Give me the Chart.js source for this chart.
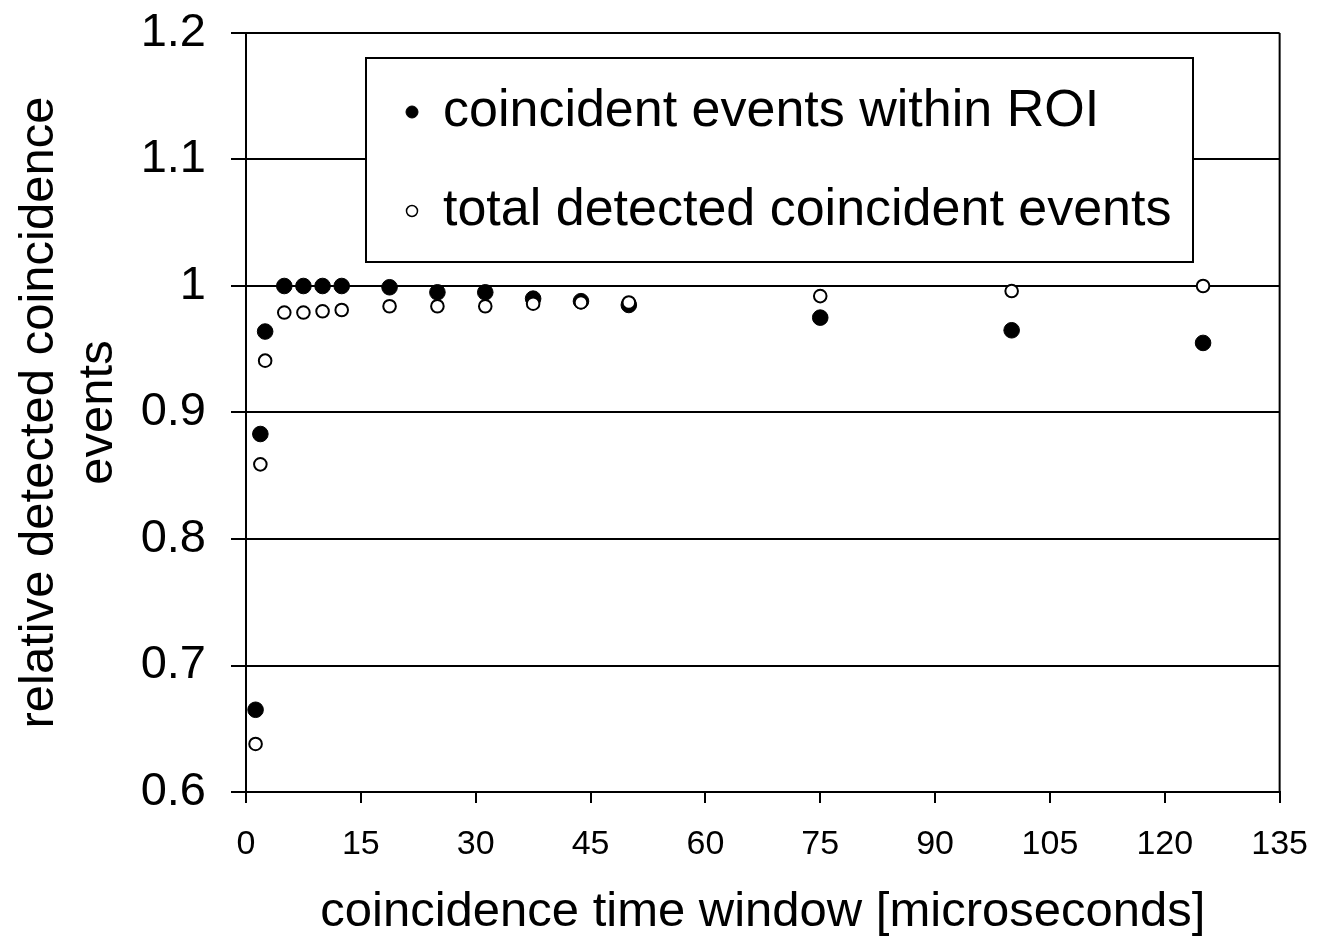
<!DOCTYPE html>
<html>
<head>
<meta charset="utf-8">
<script src="https://cdn.jsdelivr.net/npm/chart.js@4/dist/chart.umd.min.js"></script>
<style>
  html, body { margin: 0; padding: 0; background: #fff; }
  #wrap { width: 1329px; height: 943px; }
</style>
</head>
<body>
<div id="wrap"><canvas id="c" width="1329" height="943"></canvas></div>
<script>
// Coincidence time window [microseconds]
const windowTimes = [1.25, 1.875, 2.5, 5, 7.5, 10, 12.5, 18.75, 25, 31.25, 37.5, 43.75, 50, 75, 100, 125];
// Relative detected coincidence events
const roiEvents   = [0.665, 0.883, 0.964, 1.000, 1.000, 1.000, 1.000, 0.999, 0.995, 0.995, 0.990, 0.988, 0.985, 0.975, 0.965, 0.955];
const totalEvents = [0.638, 0.859, 0.941, 0.979, 0.979, 0.980, 0.981, 0.984, 0.984, 0.984, 0.986, 0.987, 0.987, 0.992, 0.996, 1.000];

const seriesNames = ['coincident events within ROI', 'total detected coincident events'];
const xAxisTitle = 'coincidence time window [microseconds]';
const yAxisTitle = ['relative detected coincidence', 'events'];
const yTickValues = [0.6, 0.7, 0.8, 0.9, 1.0, 1.1, 1.2];
const yTickLabels = ['0.6', '0.7', '0.8', '0.9', '1', '1.1', '1.2'];

const FONT = "'Liberation Sans', Arial, sans-serif";

const toPoints = (xs, ys) => xs.map((x, i) => ({ x: x, y: ys[i] }));

// Right-hand frame line of the plot area
const frameLine = {
  id: 'frameLine',
  beforeDatasetsDraw(chart) {
    const { ctx, chartArea: a } = chart;
    ctx.save();
    ctx.strokeStyle = '#000';
    ctx.lineWidth = 2;
    ctx.beginPath();
    ctx.moveTo(a.right, a.top);
    ctx.lineTo(a.right, a.bottom);
    ctx.stroke();
    ctx.restore();
  }
};

// Boxed legend sitting inside the plot area
const boxedLegend = {
  id: 'boxedLegend',
  afterDraw(chart) {
    const { ctx } = chart;
    const box = { left: 366, top: 58, right: 1193, bottom: 262 };
    ctx.save();
    ctx.fillStyle = '#fff';
    ctx.fillRect(box.left, box.top, box.right - box.left, box.bottom - box.top);
    ctx.strokeStyle = '#000';
    ctx.lineWidth = 2;
    ctx.strokeRect(box.left, box.top, box.right - box.left, box.bottom - box.top);

    const rows = [
      { y: 112, fill: '#000', r: 6, lw: 1 },
      { y: 211, fill: '#fff', r: 5.5, lw: 1.5 }
    ];
    ctx.font = '52px ' + FONT;
    ctx.textBaseline = 'middle';
    ctx.textAlign = 'left';
    rows.forEach((row, i) => {
      ctx.beginPath();
      ctx.arc(412, row.y, row.r, 0, Math.PI * 2);
      ctx.fillStyle = row.fill;
      ctx.fill();
      ctx.lineWidth = row.lw;
      ctx.strokeStyle = '#000';
      ctx.stroke();
      ctx.fillStyle = '#000';
      ctx.fillText(seriesNames[i], 443, row.y);
    });
    ctx.restore();
  }
};

new Chart(document.getElementById('c'), {
  type: 'scatter',
  data: {
    datasets: [
      {
        label: seriesNames[0],
        data: toPoints(windowTimes, roiEvents),
        backgroundColor: '#000',
        borderColor: '#000',
        borderWidth: 1,
        pointRadius: 7.8,
        pointStyle: 'circle',
        order: 1
      },
      {
        label: seriesNames[1],
        data: toPoints(windowTimes, totalEvents),
        backgroundColor: '#fff',
        borderColor: '#000',
        borderWidth: 2,
        pointRadius: 6.3,
        pointStyle: 'circle',
        order: 0
      }
    ]
  },
  options: {
    responsive: false,
    animation: false,
    devicePixelRatio: 1,
    layout: { padding: { top: 33, right: 48, left: 0, bottom: 0 } },
    plugins: {
      legend: { display: false },
      tooltip: { enabled: false }
    },
    scales: {
      x: {
        type: 'linear',
        min: 0,
        max: 135,
        ticks: {
          stepSize: 15,
          maxRotation: 0,
          color: '#000',
          padding: 21,
          font: { family: FONT, size: 34 }
        },
        grid: { drawOnChartArea: false, color: '#000', lineWidth: 2, tickLength: 11 },
        border: { color: '#000', width: 2 },
        title: {
          display: true,
          text: xAxisTitle,
          color: '#000',
          font: { family: FONT, size: 49 },
          padding: { top: 0, bottom: 1 }
        },
        afterFit(scale) { scale.height = 151; }
      },
      y: {
        type: 'linear',
        min: 0.6,
        max: 1.2,
        afterBuildTicks(scale) {
          scale.ticks = yTickValues.map(v => ({ value: v }));
        },
        ticks: {
          color: '#000',
          padding: 25,
          font: { family: FONT, size: 47 },
          callback(value) {
            const i = yTickValues.findIndex(v => Math.abs(v - value) < 1e-6);
            return i >= 0 ? yTickLabels[i] : '';
          }
        },
        grid: { color: '#000', lineWidth: 2, tickLength: 15 },
        border: { color: '#000', width: 2 },
        title: {
          display: true,
          text: yAxisTitle,
          color: '#000',
          font: { family: FONT, size: 49, lineHeight: 1.2 },
          padding: { top: 10, bottom: 0 }
        },
        afterFit(scale) {
          scale.width = 246;
          scale.paddingTop = 0;
          scale.paddingBottom = 0;
        }
      }
    }
  },
  plugins: [frameLine, boxedLegend]
});
</script>
</body>
</html>
